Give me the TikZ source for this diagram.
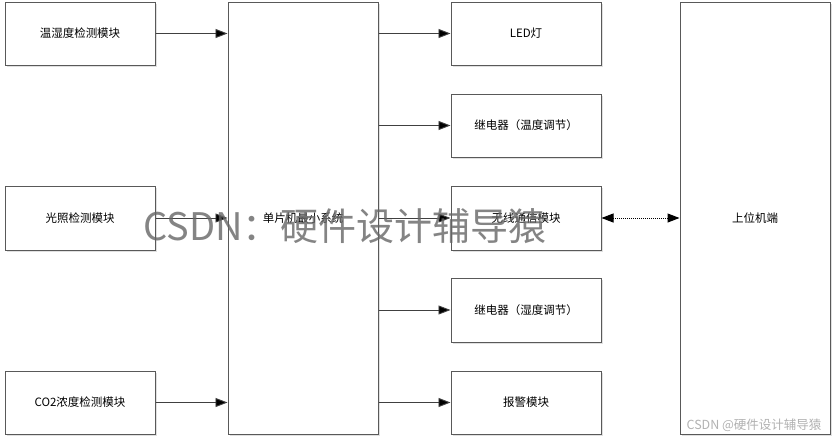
\documentclass[tikz,border=0pt]{standalone}
\usepackage{fontspec}
\setmainfont{Noto Sans CJK SC}
\newfontfamily\cjk{Noto Sans CJK SC}
\usetikzlibrary{arrows.meta}
\begin{document}
\begin{tikzpicture}[x=1pt,y=-1pt,
  blk/.style={draw=black!65,line width=1pt,fill=white,inner sep=0pt,font=\cjk\fontsize{11.5}{13}\selectfont},
  conn/.style={draw=black!75,line width=0.9pt,-{Triangle[length=12pt,width=9pt,fill=black]}},
  dconn/.style={draw=black,line width=1pt,densely dotted,{Triangle[length=12pt,width=9pt]}-{Triangle[length=12pt,width=9pt]}}]
\useasboundingbox (0,0) rectangle (836,442);
\fill[white] (0,0) rectangle (836,442);
% shadows
\foreach \a/\b/\c/\d in {5/2/155/65,5/186/155/250,5/371/155/434,228/2/378/434,451/2/601/65,451/94/601/157,451/186/601/250,451/278/601/342,451/371/601/434,680/2/830/434}
  \fill[black!12] (\a+1.5,\b+1.5) rectangle (\c+1.5,\d+1.5);
% left
\node[blk,minimum width=150pt,minimum height=63pt] (th) at (80,33.5) {温湿度检测模块};
\node[blk,minimum width=150pt,minimum height=64pt] (lt) at (80,218) {光照检测模块};
\node[blk,minimum width=150pt,minimum height=63pt] (co) at (80,402.5) {CO2浓度检测模块};
% mcu
\node[blk,minimum width=150pt,minimum height=432pt] (mcu) at (303,218) {单片机最小系统};
% right
\node[blk,minimum width=150pt,minimum height=63pt] (led) at (526,33.5) {LED灯};
\node[blk,minimum width=150pt,minimum height=63pt] (r1) at (526,125.5) {继电器（温度调节）};
\node[blk,minimum width=150pt,minimum height=64pt] (wl) at (526,218) {无线通信模块};
\node[blk,minimum width=150pt,minimum height=64pt] (r2) at (526,310) {继电器（湿度调节）};
\node[blk,minimum width=150pt,minimum height=63pt] (al) at (526,402.5) {报警模块};
% host
\node[blk,minimum width=150pt,minimum height=432pt] (pc) at (755,218) {上位机端};
% connectors
\draw[conn] (th.east) -- (th.east -| mcu.west);
\draw[conn] (lt.east) -- (lt.east -| mcu.west);
\draw[conn] (co.east) -- (co.east -| mcu.west);
\draw[conn] (mcu.east |- led.west) -- (led.west);
\draw[conn] (mcu.east |- r1.west) -- (r1.west);
\draw[conn] (mcu.east |- wl.west) -- (wl.west);
\draw[conn] (mcu.east |- r2.west) -- (r2.west);
\draw[conn] (mcu.east |- al.west) -- (al.west);
\draw[dconn] (wl.east) -- (wl.east -| pc.west);
% watermarks
\node[text=black!60,font=\cjk\fontsize{38}{40}\selectfont,opacity=0.8] (wm) at (345,226) {CSDN：硬件设计辅导猿};
\node[text=black!30,font=\cjk\fontsize{12.5}{14}\selectfont,anchor=east] (wm2) at (825,425) {CSDN @硬件设计辅导猿};
\end{tikzpicture}
\end{document}
